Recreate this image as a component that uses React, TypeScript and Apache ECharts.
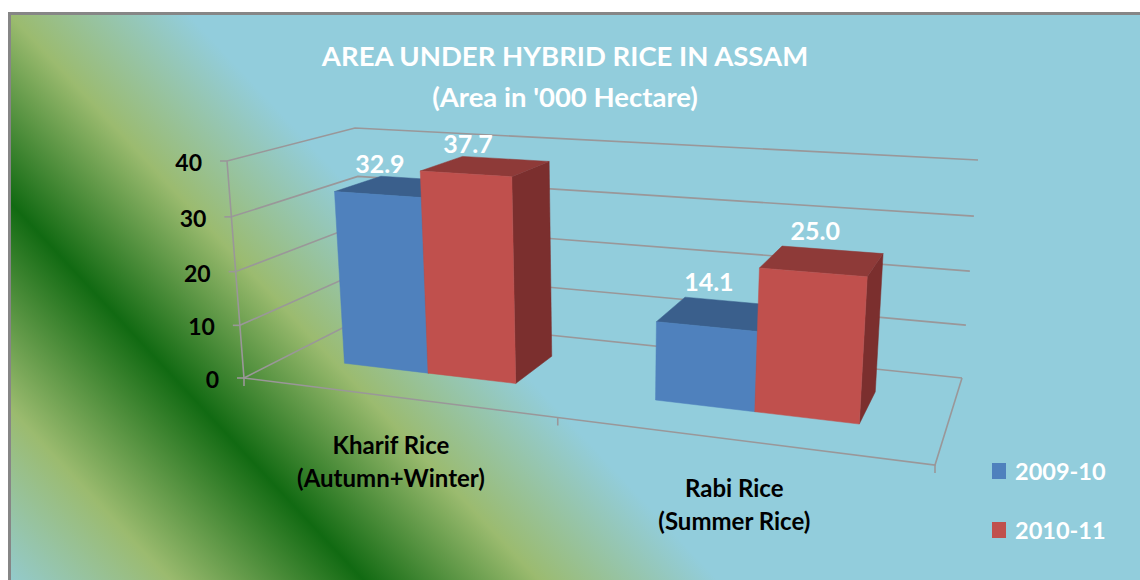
import React, { useEffect, useRef } from "react";
import * as echarts from "echarts";

const categories = ["Kharif Rice\n(Autumn+Winter)", "Rabi Rice\n(Summer Rice)"];
const seriesNames = ["2009-10", "2010-11"];
const values2009 = [32.9, 14.1];
const values2010 = [37.7, 25.0];
const yTicks = [0, 10, 20, 30, 40];

const FONT = "Lato";
const GRID = { left: 243, top: 161, width: 692, height: 217 };

type P = [number, number];

function homography(a: P, b: P, c: P, d: P) {
  const dx1 = b[0] - c[0], dx2 = d[0] - c[0], sx = a[0] - b[0] + c[0] - d[0];
  const dy1 = b[1] - c[1], dy2 = d[1] - c[1], sy = a[1] - b[1] + c[1] - d[1];
  const den = dx1 * dy2 - dx2 * dy1;
  const g = (sx * dy2 - dx2 * sy) / den;
  const h = (dx1 * sy - sx * dy1) / den;
  const A = b[0] - a[0] + g * b[0], B = d[0] - a[0] + h * d[0], C = a[0];
  const D = b[1] - a[1] + g * b[1], E = d[1] - a[1] + h * d[1], F = a[1];
  return (u: number, w: number): P => {
    const z = g * u + h * w + 1;
    return [(A * u + B * w + C) / z, (D * u + E * w + F) / z];
  };
}

// corners of the 3-D box: front-left, front-right, back-right, back-left
const floorH = homography([244, 378], [935, 465], [962, 378], [366, 316]);
const roofH = homography([227, 161], [953, 206.5], [978, 160], [355, 128]);

function project(u: number, w: number, t: number): P {
  const f = floorH(u, w);
  const r = roofH(u, w);
  const k = t / (1 + 0.04 * (1 - t));
  return [f[0] + (r[0] - f[0]) * k, f[1] + (r[1] - f[1]) * k];
}

const W_FRONT = 0.314;
const W_BACK = 0.705;
const U_SHIFT = -0.004;

function norm(p: number[]) {
  return {
    u: (p[0] - GRID.left) / GRID.width,
    t: (GRID.top + GRID.height - p[1]) / GRID.height,
  };
}

function barRenderer(seriesIdx: number, faces: { front: string; top: string; side: string }) {
  return (_params: any, api: any) => {
    const cat = api.value(0);
    const val = api.value(1);
    const { u: uc, t } = norm(api.coord([cat, val]));
    const band = api.size([1, 0])[0] / GRID.width;
    const bw = band / 3.5;
    const u0 = uc + U_SHIFT + (seriesIdx - 1) * bw;
    const u1 = u0 + bw;
    const poly = (pts: P[], fill: string) => ({
      type: "polygon",
      shape: { points: pts },
      style: { fill, stroke: fill, lineWidth: 0.5 },
    });
    const fl = project(u0, W_FRONT, 0), fr = project(u1, W_FRONT, 0);
    const tl = project(u0, W_FRONT, t), tr = project(u1, W_FRONT, t);
    const bl = project(u0, W_BACK, t), br = project(u1, W_BACK, t);
    const sb = project(u1, W_BACK, 0);
    const labelX = (tl[0] + tr[0]) / 2 + 2;
    const labelY = bl[1] - 13 - 3 * cat;
    return {
      type: "group",
      children: [
        poly([fr, tr, br, sb], faces.side),
        poly([tl, tr, br, bl], faces.top),
        poly([fl, fr, tr, tl], faces.front),
        {
          type: "text",
          z2: 10,
          style: {
            x: labelX,
            y: labelY,
            text: val.toFixed(1),
            fill: "#ffffff",
            font: `bold 25px ${FONT}`,
            align: "center",
            verticalAlign: "middle",
          },
        },
      ],
    };
  };
}

const LINE = { stroke: "#9a9799", lineWidth: 1.6, fill: "none" };

function frameRenderer(params: any, api: any) {
  const tick = api.value(0);
  const { t } = norm(api.coord([0, tick]));
  const front = project(0, 0, t);
  const back = project(0, 1, t);
  const right = project(1, 1, t);
  const children: any[] = [
    { type: "polyline", shape: { points: [front, back, right] }, style: LINE },
    {
      type: "line",
      shape: { x1: front[0] - 7, y1: front[1], x2: front[0], y2: front[1] },
      style: LINE,
    },
    {
      type: "text",
      style: {
        x: front[0] - 25,
        y: front[1] + 1,
        text: String(tick),
        fill: "#000000",
        font: `bold 23px ${FONT}`,
        align: "right",
        verticalAlign: "middle",
      },
    },
  ];
  if (params.dataIndex === 0) {
    const a = project(0, 0, 0), b = project(1, 0, 0), c = project(1, 1, 0), top = project(0, 0, 1);
    children.push({ type: "polyline", shape: { points: [top, a, b, c] }, style: LINE });
    [0, 0.5, 1].forEach((u) => {
      const p = project(u, 0, 0);
      children.push({
        type: "line",
        shape: { x1: p[0], y1: p[1], x2: p[0], y2: p[1] + 8 },
        style: LINE,
      });
    });
  }
  return { type: "group", children };
}

function categoryRenderer(_params: any, api: any) {
  const idx = api.value(0);
  const { u } = norm(api.coord([idx, 0]));
  const p = project(u, 0, 0);
  return {
    type: "text",
    style: {
      x: p[0] - 3,
      y: p[1] + 64,
      text: categories[idx],
      fill: "#000000",
      font: `bold 24px ${FONT}`,
      lineHeight: 33,
      align: "center",
      verticalAlign: "middle",
    },
  };
}

// gradient runs across the diagonal bands of the background
const NX = 0.73, NY = -0.683;
const S0 = -410, S1 = 128;
const bgGradient = new echarts.graphic.LinearGradient(
  S0 * NX, S0 * NY, S1 * NX, S1 * NY,
  [
    { offset: 0, color: "#92CDDC" },
    { offset: (S0 * -1 - 272) / (S1 - S0), color: "#9BBB6F" },
    { offset: (S0 * -1 - 131) / (S1 - S0), color: "#116A12" },
    { offset: (S0 * -1 - 3) / (S1 - S0), color: "#9BBB6F" },
    { offset: 1, color: "#92CDDC" },
  ],
  true
);

export default function App() {
  const ref = useRef<HTMLDivElement>(null);
  useEffect(() => {
    const chart = echarts.init(ref.current!, undefined, { renderer: "svg" });
    chart.setOption({
      animation: false,
      backgroundColor: "#ffffff",
      title: {
        text: "AREA UNDER HYBRID RICE IN ASSAM\n(Area in '000 Hectare)",
        left: 560,
        top: 30,
        textAlign: "center",
        textStyle: { color: "#ffffff", fontFamily: FONT, fontWeight: "bold", fontSize: 27.5, lineHeight: 41 },
      },
      legend: {
        data: seriesNames,
        orient: "vertical",
        left: 987,
        top: 454,
        icon: "rect",
        itemWidth: 14,
        itemHeight: 16,
        itemGap: 35,
        textStyle: { color: "#ffffff", fontFamily: FONT, fontWeight: "bold", fontSize: 23.5, padding: [0, 0, 0, 4] },
      },
      grid: { left: GRID.left, top: GRID.top, width: GRID.width, height: GRID.height },
      xAxis: { type: "category", data: categories, show: false },
      yAxis: { type: "value", min: 0, max: 40, interval: 10, show: false },
      graphic: [
        {
          type: "rect",
          z: -10,
          silent: true,
          shape: { x: 9.5, y: 13.5, width: 1140, height: 580 },
          style: { fill: bgGradient, stroke: "#868686", lineWidth: 3 },
        },
      ],
      series: [
        {
          type: "custom",
          name: "frame",
          data: yTicks.map((v) => [v]),
          encode: { y: 0 },
          renderItem: frameRenderer,
          silent: true,
          z: 1,
        },
        {
          type: "custom",
          name: "categories",
          data: categories.map((_, i) => [i]),
          encode: { x: 0 },
          renderItem: categoryRenderer,
          silent: true,
          z: 1,
        },
        {
          type: "custom",
          name: seriesNames[0],
          data: values2009.map((v, i) => [i, v]),
          encode: { x: 0, y: 1 },
          itemStyle: { color: "#4F81BD" },
          renderItem: barRenderer(0, { front: "#4F81BD", top: "#3A5F8C", side: "#2F4D73" }),
          z: 2,
        },
        {
          type: "custom",
          name: seriesNames[1],
          data: values2010.map((v, i) => [i, v]),
          encode: { x: 0, y: 1 },
          itemStyle: { color: "#C0504D" },
          renderItem: barRenderer(1, { front: "#C0504D", top: "#8E3A38", side: "#7B2F2E" }),
          z: 3,
        },
      ],
    });
    return () => chart.dispose();
  }, []);
  return <div ref={ref} style={{ position: "fixed", left: 0, top: 0, width: 1140, height: 580 }} />;
}
